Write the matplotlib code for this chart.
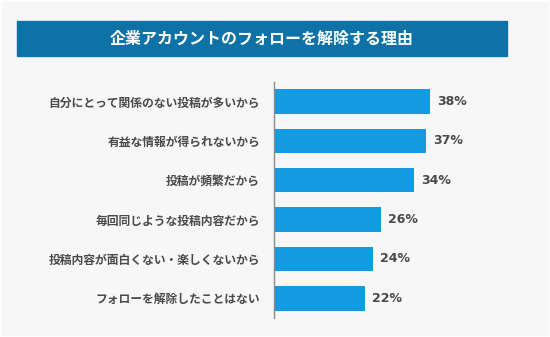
import matplotlib
matplotlib.use("Agg")
import matplotlib.pyplot as plt
from matplotlib.patches import Rectangle

plt.rcParams['font.family'] = ['Noto Sans CJK JP', 'DejaVu Sans']

title = "企業アカウントのフォローを解除する理由"
reasons = ["自分にとって関係のない投稿が多いから",
           "有益な情報が得られないから",
           "投稿が頻繁だから",
           "毎回同じような投稿内容だから",
           "投稿内容が面白くない・楽しくないから",
           "フォローを解除したことはない"]
values = [38, 37, 34, 26, 24, 22]

W, H = 550, 337
fig = plt.figure(figsize=(W / 100, H / 100), dpi=100)
fig.patch.set_facecolor("white")

# light gray panel + title band
fig.add_artist(Rectangle((2 / W, 2 / H), (W - 4) / W, (H - 4) / H,
                         transform=fig.transFigure, color="#f7f7f7", zorder=-2))
fig.add_artist(Rectangle((17 / W, 1 - 56 / H), 490 / W, 35 / H,
                         transform=fig.transFigure, color="#0f72a6", zorder=-1))
fig.text(262 / W, 1 - 38.5 / H, title, color="white", fontsize=11.5,
         fontweight="bold", ha="center", va="center")

# axes: x=0 at 274px, 4.12 px per %
ax = fig.add_axes([274 / W, 1 - 318 / H, 247 / W, 236.3 / H])
ax.set_zorder(5)
ax.set_facecolor("none")
pos = list(range(len(reasons)))
ax.barh(pos, values, height=0.62, color="#149ade", zorder=2)
ax.set_xlim(0, 60)
ax.set_ylim(len(reasons) - 0.5, -0.5)

for s in ["top", "right", "bottom"]:
    ax.spines[s].set_visible(False)
ax.spines["left"].set_color("#8a8a8a")
ax.spines["left"].set_linewidth(1.0)
ax.set_xticks([])
ax.set_yticks(pos)
ax.set_yticklabels(reasons, fontsize=8.5, fontweight="bold", color="#4a4a4a")
ax.tick_params(axis="y", length=0, pad=10)

for p, v in zip(pos, values):
    ax.text(v + 1.7, p, f"{v}%", va="center", ha="left", fontsize=9,
            fontweight="bold", color="#4a4a4a", family="DejaVu Sans")

plt.savefig("out.png", dpi=100, facecolor=fig.get_facecolor())
